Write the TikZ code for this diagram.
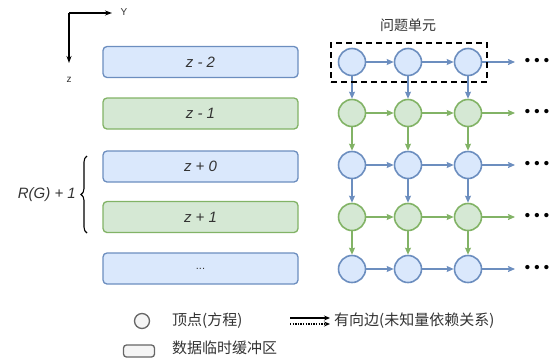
\documentclass[tikz,border=0pt]{standalone}
\usepackage{fontspec}
\setmainfont{Liberation Sans}
\newfontfamily\cjk{Noto Sans CJK SC}
\usetikzlibrary{arrows.meta,decorations.pathreplacing}
\definecolor{bfill}{HTML}{DAE8FC}
\definecolor{bline}{HTML}{6C8EBF}
\definecolor{gfill}{HTML}{D5E8D4}
\definecolor{gline}{HTML}{82B366}
\definecolor{txt}{HTML}{333333}
\tikzset{
  buf/.style={draw, rounded corners=4pt, minimum width=195pt, minimum height=31pt, line width=1.3pt, font=\itshape\fontsize{15}{17}\selectfont, text=txt, inner sep=0pt},
  bbuf/.style={buf, fill=bfill, draw=bline},
  gbuf/.style={buf, fill=gfill, draw=gline},
  vtx/.style={circle, minimum size=27pt, inner sep=0pt, line width=1.6pt},
  bv/.style={vtx, fill=bfill, draw=bline},
  gv/.style={vtx, fill=gfill, draw=gline},
  edge/.style={-{Stealth[length=7pt,width=6pt,inset=1pt]}, line width=1.3pt},
  bedge/.style={edge, draw=bline, fill=bline},
  gedge/.style={edge, draw=gline, fill=gline},
  dots/.style={font=\fontsize{15}{15}\selectfont\bfseries, text=black, inner sep=0pt},
  cjklab/.style={font=\cjk\fontsize{15}{17}\selectfont, text=txt, inner sep=0pt},
  axis/.style={-{Stealth[length=7pt,width=5pt]}, line width=1.2pt, black},
}
\begin{document}
\begin{tikzpicture}[x=1pt,y=-1pt]
\useasboundingbox (0,0) rectangle (553,362);
% axes
\coordinate (o) at (69,13);
\coordinate (ye) at (112,13);
\coordinate (ze) at (69,63);
\draw[axis] (o) -- (ye);
\draw[axis] (o) -- (ze);
\node[font=\fontsize{10}{12}\selectfont, text=txt, inner sep=0pt] (ylab) at (124,12) {Y};
\node[font=\fontsize{10}{12}\selectfont, text=txt, inner sep=0pt] (zlab) at (69,80) {z};
% buffers
\node[bbuf] (b1) at (200.5,62) {z - 2};
\node[gbuf] (b2) at (200.5,113.5) {z - 1};
\node[bbuf] (b3) at (200.5,166.5) {z + 0};
\node[gbuf] (b4) at (200.5,217) {z + 1};
\node[bbuf, font=\fontsize{11}{12}\selectfont] (b5) at (200.5,268.5) {...};
% brace
\coordinate (br1) at (87,233);
\coordinate (br2) at (87,156);
\draw[decorate, decoration={brace, amplitude=6pt}, line width=1.1pt, black] (br1) -- (br2);
\node[anchor=east, font=\itshape\fontsize{15}{17}\selectfont, text=txt, inner sep=0pt] (rg) at (76,195) {R(G) + 1};
% grid
\foreach \r/\y/\s in {1/62/bv, 2/113/gv, 3/165/bv, 4/217/gv, 5/269/bv}{
  \foreach \c/\x in {1/352, 2/408, 3/468}{
    \node[\s] (v\r\c) at (\x,\y) {};
  }
  \coordinate (e\r) at (515,\y);
  \node[dots] (d\r) at (537,\y) {• • •};
}
\foreach \r/\e in {1/bedge, 2/gedge, 3/bedge, 4/gedge, 5/bedge}{
  \draw[\e] (v\r1) -- (v\r2);
  \draw[\e] (v\r2) -- (v\r3);
  \draw[\e] (v\r3) -- (e\r);
}
\foreach \r/\n/\e in {1/2/bedge, 2/3/gedge, 3/4/bedge, 4/5/gedge}{
  \foreach \c in {1,2,3}{
    \draw[\e] (v\r\c) -- (v\n\c);
  }
}
% problem unit
\node[draw=black, line width=2pt, dash pattern=on 6pt off 4pt, minimum width=156pt, minimum height=39pt, inner sep=0pt] (unit) at (409,62.5) {};
\node[cjklab, font=\cjk\fontsize{14}{16}\selectfont] (unitlab) at (408,25) {问题单元};
% legend
\node[circle, draw=black!60, fill=black!4, line width=1.3pt, minimum size=15pt, inner sep=0pt] (lc) at (142,321) {};
\node[cjklab, anchor=west] (lct) at (172,321) {顶点(方程)};
\coordinate (la1) at (290,318);
\coordinate (la2) at (330,318);
\coordinate (lb1) at (290,324);
\coordinate (lb2) at (330,324);
\draw[-{Stealth[length=6pt,width=5pt]}, line width=1.1pt, black] (la1) -- (la2);
\draw[-{Stealth[length=6pt,width=5pt]}, line width=1.3pt, black, dash pattern=on 1.3pt off 1.3pt] (lb1) -- (lb2);
\node[cjklab, anchor=west] (lat) at (334,321) {有向边(未知量依赖关系)};
\node[draw=black!60, fill=black!4, line width=1.3pt, rounded corners=3pt, minimum width=31pt, minimum height=12pt, inner sep=0pt] (lr) at (139,351) {};
\node[cjklab, anchor=west] (lrt) at (172,348) {数据临时缓冲区};
\end{tikzpicture}
\end{document}
